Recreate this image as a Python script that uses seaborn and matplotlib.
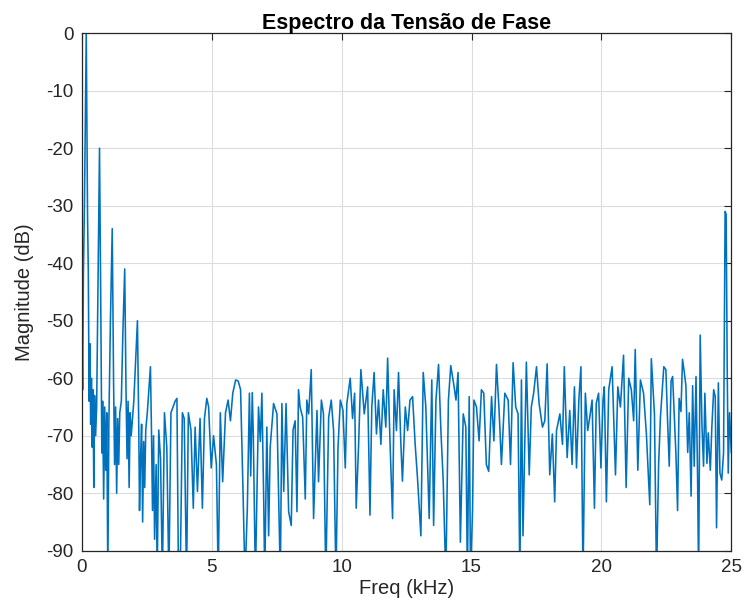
import numpy as np
import pandas as pd
import seaborn as sns
import matplotlib
matplotlib.use("Agg")
import matplotlib.pyplot as plt

# frequency (kHz) and magnitude (dB)
freq_low = [0.00, 0.03, 0.06, 0.10, 0.17, 0.22, 0.25, 0.28, 0.31, 0.34,
            0.37, 0.40, 0.43, 0.46, 0.49, 0.53, 0.57, 0.62, 0.68, 0.73,
            0.77, 0.80, 0.84, 0.88, 0.92, 0.96, 1.00, 1.04, 1.10, 1.17,
            1.22, 1.26, 1.30, 1.34, 1.38, 1.42, 1.46, 1.52, 1.58, 1.65,
            1.70, 1.74, 1.78, 1.82, 1.86, 1.90, 1.95, 2.00, 2.07, 2.14,
            2.19, 2.22, 2.26, 2.30, 2.34, 2.38, 2.42, 2.46, 2.52, 2.58,
            2.64, 2.68, 2.72, 2.76, 2.80, 2.86, 2.90, 2.96]
mag_low = [-50, -62, -42, -30, 0, -32, -42, -64, -54, -68,
           -60, -72, -62, -79, -63, -70, -65, -45, -20, -48,
           -73, -64, -81, -65, -76, -66, -95, -68, -50, -34,
           -60, -75, -65, -80, -67, -75, -66, -64, -52, -41,
           -62, -74, -64, -79, -66, -70, -67, -64, -57, -50,
           -68, -83, -74, -68, -85, -71, -79, -69, -66, -62,
           -58, -69, -83, -70, -88, -75, -95, -69]

freq_mid = [3.03, 3.10, 3.18, 3.27, 3.35, 3.43, 3.51, 3.59, 3.66, 3.72,
            3.80, 3.87, 3.94, 4.03, 4.10, 4.20, 4.29, 4.36, 4.45, 4.55,
            4.64, 4.72, 4.81, 4.88, 4.98, 5.07, 5.18, 5.25, 5.33, 5.42,
            5.53, 5.63, 5.72, 5.81, 5.92, 6.02, 6.11, 6.20, 6.28, 6.37,
            6.45, 6.50, 6.56, 6.60, 6.68, 6.80, 6.87, 6.93, 7.00, 7.04,
            7.12, 7.19, 7.25, 7.38, 7.51, 7.64, 7.70, 7.77, 7.86, 7.96,
            8.06, 8.13, 8.21, 8.28, 8.34, 8.40, 8.50, 8.60, 8.66, 8.73,
            8.83, 8.92, 9.05, 9.11, 9.22, 9.30, 9.39, 9.50, 9.60, 9.69,
            9.78, 9.86, 9.95, 10.05, 10.14, 10.20, 10.33]
mag_mid = [-74, -95, -66, -72, -95, -66, -65, -64, -63.5, -95,
           -89.7, -66, -67, -95, -66, -69, -82.6, -68.5, -79.7, -67,
           -82.6, -67, -63.5, -65, -75.6, -70, -75, -95, -66, -78,
           -66, -63.8, -67.4, -62.6, -60.3, -60.5, -62, -79, -95, -82.6,
           -62.6, -77, -62.5, -70, -95, -65, -71, -62.6, -81, -95,
           -68.5, -87.4, -72, -64.4, -66.2, -95, -64.4, -79.7, -64.4, -83.2,
           -85.6, -69, -67.4, -83.2, -62, -65, -66.8, -81, -63.8, -66.2,
           -58.5, -84.4, -65.6, -78, -63.8, -66.2, -95, -66.8, -63.8, -69.1,
           -95, -72, -63.8, -65.6, -75.6, -64.4, -60]

freq_high = [10.42, 10.50, 10.56, 10.65, 10.74, 10.87, 11.00, 11.09, 11.16, 11.25,
             11.34, 11.42, 11.51, 11.60, 11.70, 11.77, 11.86, 11.96, 12.02, 12.11,
             12.19, 12.28, 12.34, 12.45, 12.54, 12.63, 12.73, 12.83, 12.92, 13.05,
             13.14, 13.24, 13.37, 13.47, 13.54, 13.63, 13.73, 13.82, 13.91, 14.01,
             14.11, 14.20, 14.33, 14.40, 14.48, 14.57, 14.68, 14.78, 14.84, 14.91,
             14.96, 15.04, 15.09, 15.19, 15.29, 15.38, 15.47, 15.57, 15.66, 15.77,
             15.86, 15.96, 16.06, 16.15, 16.28, 16.41, 16.50, 16.60, 16.70, 16.79,
             16.86, 16.92, 16.98, 17.11, 17.22, 17.30, 17.39, 17.50, 17.60, 17.73,
             17.82, 17.91, 18.01, 18.11, 18.20, 18.27, 18.40, 18.50, 18.57, 18.68,
             18.78, 18.87, 18.96, 19.04, 19.13, 19.21, 19.29, 19.38, 19.47, 19.55,
             19.64, 19.73, 19.80, 19.89, 19.98]
mag_high = [-67, -62.6, -82.6, -72, -58.5, -66.2, -61.5, -83.8, -65, -59,
            -69.7, -63.8, -71.5, -62, -68.5, -56.5, -70.9, -84.4, -62, -69.1,
            -59, -71.5, -77.9, -65, -69.1, -63.8, -63.2, -71.5, -77.4, -87.4,
            -59, -65, -84.4, -60.3, -85.6, -63.8, -57.6, -69.1, -77.9, -95,
            -63.8, -57.8, -61.5, -63.8, -59, -88.5, -66.2, -68.5, -95, -63.2,
            -95, -82.6, -63.8, -65, -70.9, -62, -62.6, -75, -76.2, -63.2,
            -70.9, -57.6, -65.6, -75, -62.6, -63.8, -75, -57.3, -65, -66.2,
            -95, -60.3, -87.4, -57.2, -76.8, -65, -62.6, -58, -64.4, -68.5,
            -67.4, -57.5, -76.8, -69.7, -81.5, -69.1, -66.2, -71.5, -58, -73.8,
            -65.6, -75, -61.5, -75.6, -63.8, -58, -95, -62.6, -69.1, -66.8,
            -63.8, -82.6, -64.4, -62.6, -75.6]

freq_top = [20.06, 20.11, 20.19, 20.28, 20.41, 20.54, 20.63, 20.73, 20.85, 20.95,
            21.05, 21.15, 21.24, 21.30, 21.40, 21.50, 21.62, 21.73, 21.86, 21.92,
            22.04, 22.12, 22.20, 22.27, 22.40, 22.48, 22.55, 22.61, 22.68, 22.74,
            22.80, 22.87, 22.93, 22.99, 23.06, 23.12, 23.19, 23.25, 23.32, 23.38,
            23.45, 23.51, 23.57, 23.64, 23.70, 23.74, 23.80, 23.87, 23.93, 23.98,
            24.06, 24.11, 24.19, 24.25, 24.32, 24.38, 24.43, 24.50, 24.56, 24.63,
            24.70, 24.76, 24.80, 24.84, 24.88, 24.93, 25.00]
mag_top = [-63.8, -61.5, -81.5, -62, -58, -76.8, -61.5, -65, -56, -79,
           -60, -62, -67.4, -55, -76, -60.3, -62.6, -69.7, -82, -56.6,
           -66.2, -95, -75, -66.8, -58, -58.5, -68, -75.3, -60.5, -59.7,
           -66, -73.6, -83, -63.5, -65.8, -56.7, -59, -61.3, -72.9, -66,
           -80.5, -61.3, -75.3, -59.7, -77, -95, -52.5, -68.4, -75.3, -62.6,
           -74.8, -69.5, -76, -68.4, -62, -63.2, -86, -60.8, -76.5, -77.7,
           -73, -31, -31.5, -57.9, -76.5, -66, -73]

df = pd.DataFrame({
    "freq": freq_low + freq_mid + freq_high + freq_top,
    "mag": mag_low + mag_mid + mag_high + mag_top,
})

sns.set_style("whitegrid")
plt.rcParams["font.family"] = ["Liberation Sans", "DejaVu Sans"]
plt.rcParams["axes.unicode_minus"] = False

fig = plt.figure(figsize=(7.44, 6.14), dpi=100)
ax = fig.add_axes([0.110, 0.103, 0.873, 0.843])

sns.lineplot(data=df, x="freq", y="mag", ax=ax, color="#0072BD",
             linewidth=1.15, sort=False, estimator=None)

ax.set_xlim(0, 25)
ax.set_ylim(-90, 0)
ax.set_xticks(np.arange(0, 26, 5))
ax.set_yticks(np.arange(-90, 1, 10))
ax.tick_params(axis="both", labelsize=13.5, direction="in", length=5,
               color="#262626", labelcolor="#262626",
               top=True, right=True, pad=6)
ax.grid(True, color="#dcdcdc", linewidth=0.8)
for s in ax.spines.values():
    s.set_color("#262626")
    s.set_linewidth(0.9)

ax.set_title("Espectro da Tensão de Fase", fontsize=15.5, fontweight="bold",
             pad=3, color="black")
ax.set_xlabel("Freq (kHz)", fontsize=14.5, color="#262626", labelpad=2)
ax.set_ylabel("Magnitude (dB)", fontsize=14.5, color="#262626", labelpad=9)

fig.savefig("out.png", dpi=100, facecolor="white")
